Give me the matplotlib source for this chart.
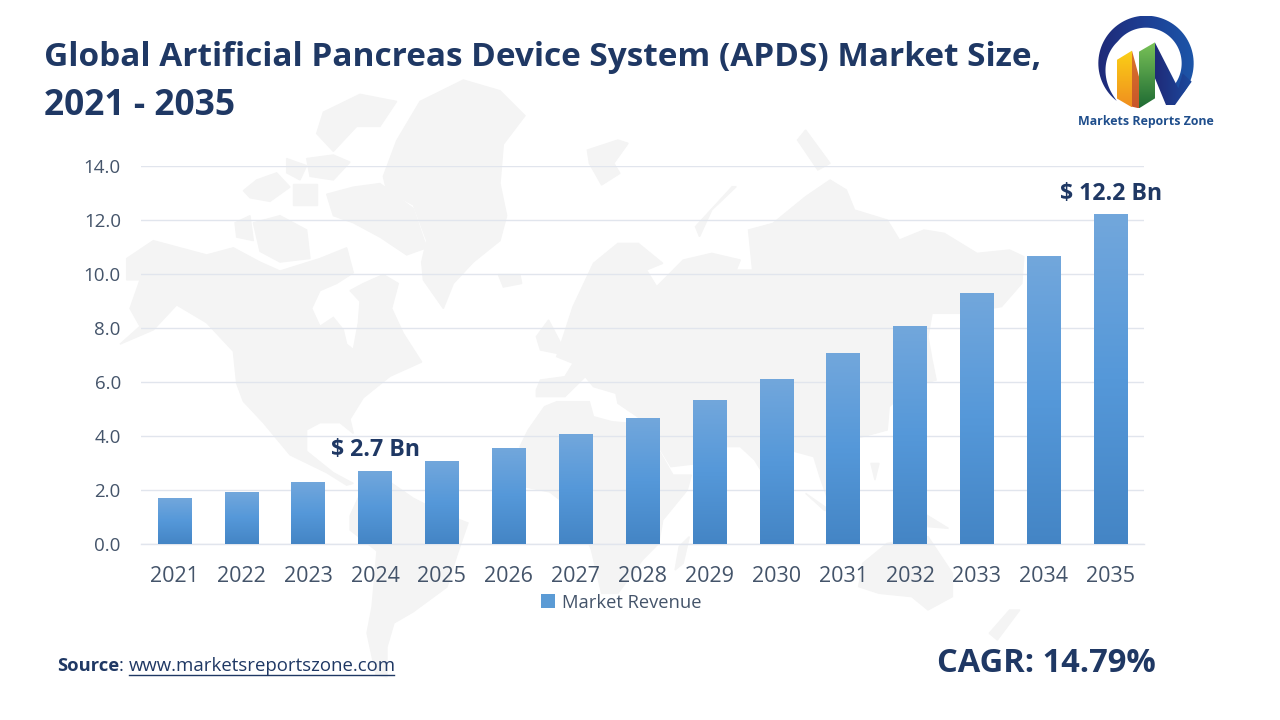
import numpy as np
import matplotlib
matplotlib.use('Agg')
import matplotlib.pyplot as plt
from matplotlib.colors import LinearSegmentedColormap
from matplotlib.patches import Patch, Polygon

plt.rcParams['font.family'] = ['Open Sans', 'DejaVu Sans']

years = ['2021', '2022', '2023', '2024', '2025', '2026', '2027', '2028',
         '2029', '2030', '2031', '2032', '2033', '2034', '2035']
revenue = [1.67, 1.92, 2.26, 2.67, 3.07, 3.52, 4.04, 4.63,
           5.33, 6.11, 7.04, 8.07, 9.26, 10.63, 12.22]
yticks = [0, 2, 4, 6, 8, 10, 12, 14]

NAVY = '#1f3864'
GREY = '#44546a'
GRID = '#e1e5ed'
LAND = '#f4f4f4'

# --- world map outline (two crops with their own scale)
def west(pts):
    return [(120 + x / 3, 80 + y * 0.357) for x, y in pts]

def east(pts):
    return [(520 + x * 0.408, 130 + y / 3) for x, y in pts]

land = [
    # north america
    west([(20, 500), (100, 450), (260, 490), (340, 470), (420, 510), (480, 535), (600, 500),
          (680, 470), (700, 540), (650, 570), (600, 590), (575, 640), (600, 690), (640, 665),
          (670, 700), (680, 740), (700, 755), (715, 680), (720, 620), (690, 590), (730, 570),
          (790, 545), (835, 570), (815, 640), (850, 710), (905, 790), (810, 830), (730, 890),
          (690, 950), (700, 990), (660, 960), (600, 960), (560, 980), (560, 1040), (640, 1100),
          (700, 1130), (680, 1135), (620, 1100), (510, 1050), (430, 960), (370, 900), (350, 850),
          (340, 760), (260, 680), (170, 630), (100, 700), (0, 740), (60, 690), (30, 640),
          (60, 560), (20, 560)]),
    # canadian islands
    west([(780, 130), (830, 60), (720, 40), (610, 90), (590, 150), (640, 200), (710, 130)]),
    west([(560, 220), (640, 210), (690, 230), (640, 280), (570, 270)]),
    west([(500, 220), (560, 240), (540, 280), (500, 260)]),
    west([(370, 310), (410, 280), (470, 260), (510, 300), (450, 340), (390, 330)]),
    west([(520, 290), (590, 290), (590, 350), (520, 350)]),
    west([(400, 400), (480, 380), (560, 420), (570, 500), (480, 510), (420, 480)]),
    west([(345, 400), (390, 380), (400, 450), (350, 440)]),
    west([(620, 320), (700, 300), (780, 290), (880, 360), (920, 470), (860, 490), (780, 440),
          (700, 400), (640, 380)]),
    # greenland, iceland
    west([(790, 270), (830, 170), (900, 60), (1030, 0), (1140, 30), (1215, 100), (1150, 180),
          (1140, 290), (1160, 380), (1140, 450), (1060, 510), (1000, 570), (970, 640), (910, 560),
          (905, 510), (920, 450), (880, 350), (800, 310)]),
    west([(1135, 545), (1200, 545), (1205, 570), (1150, 580)]),
    # south america
    [(350, 516), (360, 494), (387, 480), (413, 498), (440, 512), (468, 523), (457, 555), (447, 587),
     (413, 612), (394, 623), (387, 647), (387, 677), (376, 675), (367, 633), (372, 607), (377, 551),
     (350, 530)],
    # africa
    east([(60, 830), (90, 815), (170, 815), (180, 860), (225, 875), (270, 880), (300, 870), (340, 960),
          (375, 1035), (420, 1035), (410, 1080), (350, 1170), (340, 1240), (300, 1290), (240, 1390),
          (200, 1390), (175, 1260), (140, 1150), (73, 1086), (10, 1070), (0, 950), (20, 900)]),
    # eurasia
    east([(40, 780), (50, 750), (110, 740), (130, 700), (90, 680), (130, 530), (180, 400), (240, 340),
          (290, 340), (350, 400), (310, 420), (335, 470), (400, 390), (470, 370), (540, 390), (530, 420),
          (570, 420), (560, 300), (620, 280), (640, 260), (700, 200), (760, 150), (800, 180), (820, 240),
          (900, 270), (930, 330), (990, 300), (1040, 310), (1120, 370), (1200, 360), (1235, 380),
          (1230, 460), (1180, 530), (1080, 550), (1010, 550), (1000, 620), (1010, 690), (1020, 750),
          (960, 770), (905, 830), (900, 900), (840, 920), (800, 930), (770, 1000), (755, 1110),
          (735, 1040), (720, 980), (660, 960), (620, 1080), (575, 990), (540, 950), (480, 950),
          (440, 1000), (370, 1010), (300, 870), (240, 820), (235, 790), (180, 770), (160, 740),
          (110, 800), (40, 800)]),
    # islands
    east([(40, 620), (70, 570), (100, 640), (90, 670), (50, 660)]),
    east([(390, 1250), (415, 1220), (400, 1300), (380, 1320)]),
    east([(165, 60), (240, 30), (265, 40), (230, 100), (245, 130), (200, 165), (170, 100)]),
    east([(430, 290), (520, 170), (530, 170), (470, 240), (440, 320)]),
    east([(680, 30), (700, 0), (760, 100), (730, 120)]),
    east([(830, 1370), (840, 1300), (900, 1240), (1000, 1220), (1060, 1330), (1060, 1400), (1000, 1440),
          (960, 1400), (880, 1390)]),
    east([(1200, 1440), (1225, 1440), (1170, 1530), (1150, 1510)]),
    east([(990, 1150), (1050, 1195), (1000, 1190)]),
    east([(860, 1000), (880, 1000), (870, 1050)]),
    east([(700, 1090), (770, 1150), (745, 1140)]),
]

fig = plt.figure(figsize=(12.8, 7.2), dpi=100, facecolor='white')

# pixel-coordinate layer for everything that is not the chart
bg = fig.add_axes([0, 0, 1, 1], zorder=0)
bg.set_xlim(0, 1280)
bg.set_ylim(720, 0)
bg.axis('off')
for pts in land:
    bg.add_patch(Polygon(pts, closed=True, facecolor=LAND, edgecolor=LAND, lw=1))

# --- chart
ax = fig.add_axes([141 / 1280, (720 - 544) / 720, 1003 / 1280, 378 / 720], zorder=1)
ax.patch.set_alpha(0)
x = np.arange(len(years))
bars = ax.bar(x, revenue, width=0.5, color='#5598d9', zorder=3, label='Market Revenue')

bar_cmap = LinearSegmentedColormap.from_list('bar', ['#72a7dc', '#5598d9', '#4485c5'])
grad = np.linspace(0, 1, 256).reshape(-1, 1)
for b in bars:
    ax.imshow(grad, cmap=bar_cmap, aspect='auto', zorder=3.5,
              extent=[b.get_x(), b.get_x() + b.get_width(), 0, b.get_height()])

ax.set_xlim(-0.5, len(years) - 0.5)
ax.set_ylim(0, 14)
ax.set_xticks(x)
ax.set_xticklabels(years, fontsize=15.5, color=GREY)
ax.set_yticks(yticks)
ax.set_yticklabels([f'{v:.1f}' for v in yticks], fontsize=13.5, color=GREY)
ax.tick_params(length=0)
ax.tick_params(axis='x', pad=15.5)
ax.tick_params(axis='y', pad=14.5)
ax.grid(axis='y', color=GRID, lw=1.0, zorder=1)
ax.set_axisbelow(True)
for name in ['top', 'left', 'right']:
    ax.spines[name].set_visible(False)
ax.spines['bottom'].set_color(GRID)
ax.spines['bottom'].set_linewidth(1.0)

ax.text(3, 3.03, r'\$ 2.7 Bn', ha='center', va='bottom', fontsize=16.7, fontweight='bold', color=NAVY, zorder=5)
ax.text(14, 12.53, r'\$ 12.2 Bn', ha='center', va='bottom', fontsize=16.7, fontweight='bold', color=NAVY, zorder=5)

ax.legend(handles=[Patch(facecolor='#5b9bd5', label='Market Revenue')], loc='center',
          bbox_to_anchor=(621 / 1280, (720 - 602.5) / 720), bbox_transform=fig.transFigure,
          frameon=False, fontsize=13.2, labelcolor=GREY, handlelength=0.8, handleheight=0.8,
          handletextpad=0.35)

# --- title and footer
bg.text(44, 58, 'Global Artificial Pancreas Device System (APDS) Market Size,', fontsize=24,
        fontweight='bold', color=NAVY, va='center')
bg.text(44, 106, '2021 - 2035', fontsize=25.5, fontweight='bold', color=NAVY, va='center')

bg.text(57, 666, 'Source', fontsize=13.2, fontweight='bold', color=NAVY, va='center')
bg.text(119, 666, ':', fontsize=13.2, color=NAVY, va='center')
bg.text(129, 666, 'www.marketsreportszone.com', fontsize=13.45, color=NAVY, va='center')
bg.plot([129, 394], [674.5, 674.5], color=NAVY, lw=1)
bg.text(1156, 663, 'CAGR: 14.79%', fontsize=23.5, fontweight='bold', color=NAVY, va='center', ha='right')

# --- logo
def logo(pts):
    return [(1060 + px / 3, 10 + py / 3) for px, py in pts]

def shaded(verts, colors, horizontal=False):
    xs, ys = zip(*verts)
    cmap = LinearSegmentedColormap.from_list('g', colors)
    ramp = np.linspace(0, 1, 64).reshape(1, -1) if horizontal else np.linspace(0, 1, 64).reshape(-1, 1)
    im = bg.imshow(ramp, cmap=cmap, aspect='auto', extent=[min(xs), max(xs), max(ys), min(ys)], zorder=2)
    im.set_clip_path(Polygon(verts, closed=True, transform=bg.transData))

theta = np.radians(np.linspace(232, -60, 90))
thick = np.clip((np.radians(232) - theta) / np.radians(90), 0, 1) ** 0.8 * 36
outer = [(258 + 143 * np.cos(t), 160 - 143 * np.sin(t)) for t in theta]
inner = [(258 + (143 - w) * np.cos(t), 160 - (143 - w) * np.sin(t)) for t, w in zip(theta, thick)]
shaded(logo(outer + inner[::-1]), ['#1f2a78', '#1d3f94', '#1c55a8'], horizontal=True)
shaded(logo([(285, 98), (355, 235), (368, 190), (395, 215), (345, 285), (318, 285), (285, 205)]),
       ['#1f2a78', '#1c4a9e'], horizontal=True)
shaded(logo([(170, 150), (216, 122), (216, 292), (170, 265)]), ['#fbd016', '#f08f1f'])
shaded(logo([(216, 122), (237, 200), (237, 295), (216, 290)]), ['#d9752a', '#c9562a'])
shaded(logo([(237, 125), (285, 97), (285, 265), (237, 295)]), ['#79c257', '#1f6b34'])
bg.set_xlim(0, 1280)
bg.set_ylim(720, 0)
bg.text(1145.5, 121, 'Markets Reports Zone', fontsize=8.9, fontweight='bold', color='#1f4e8c',
        ha='center', va='center')

fig.savefig('out.png', dpi=100)
